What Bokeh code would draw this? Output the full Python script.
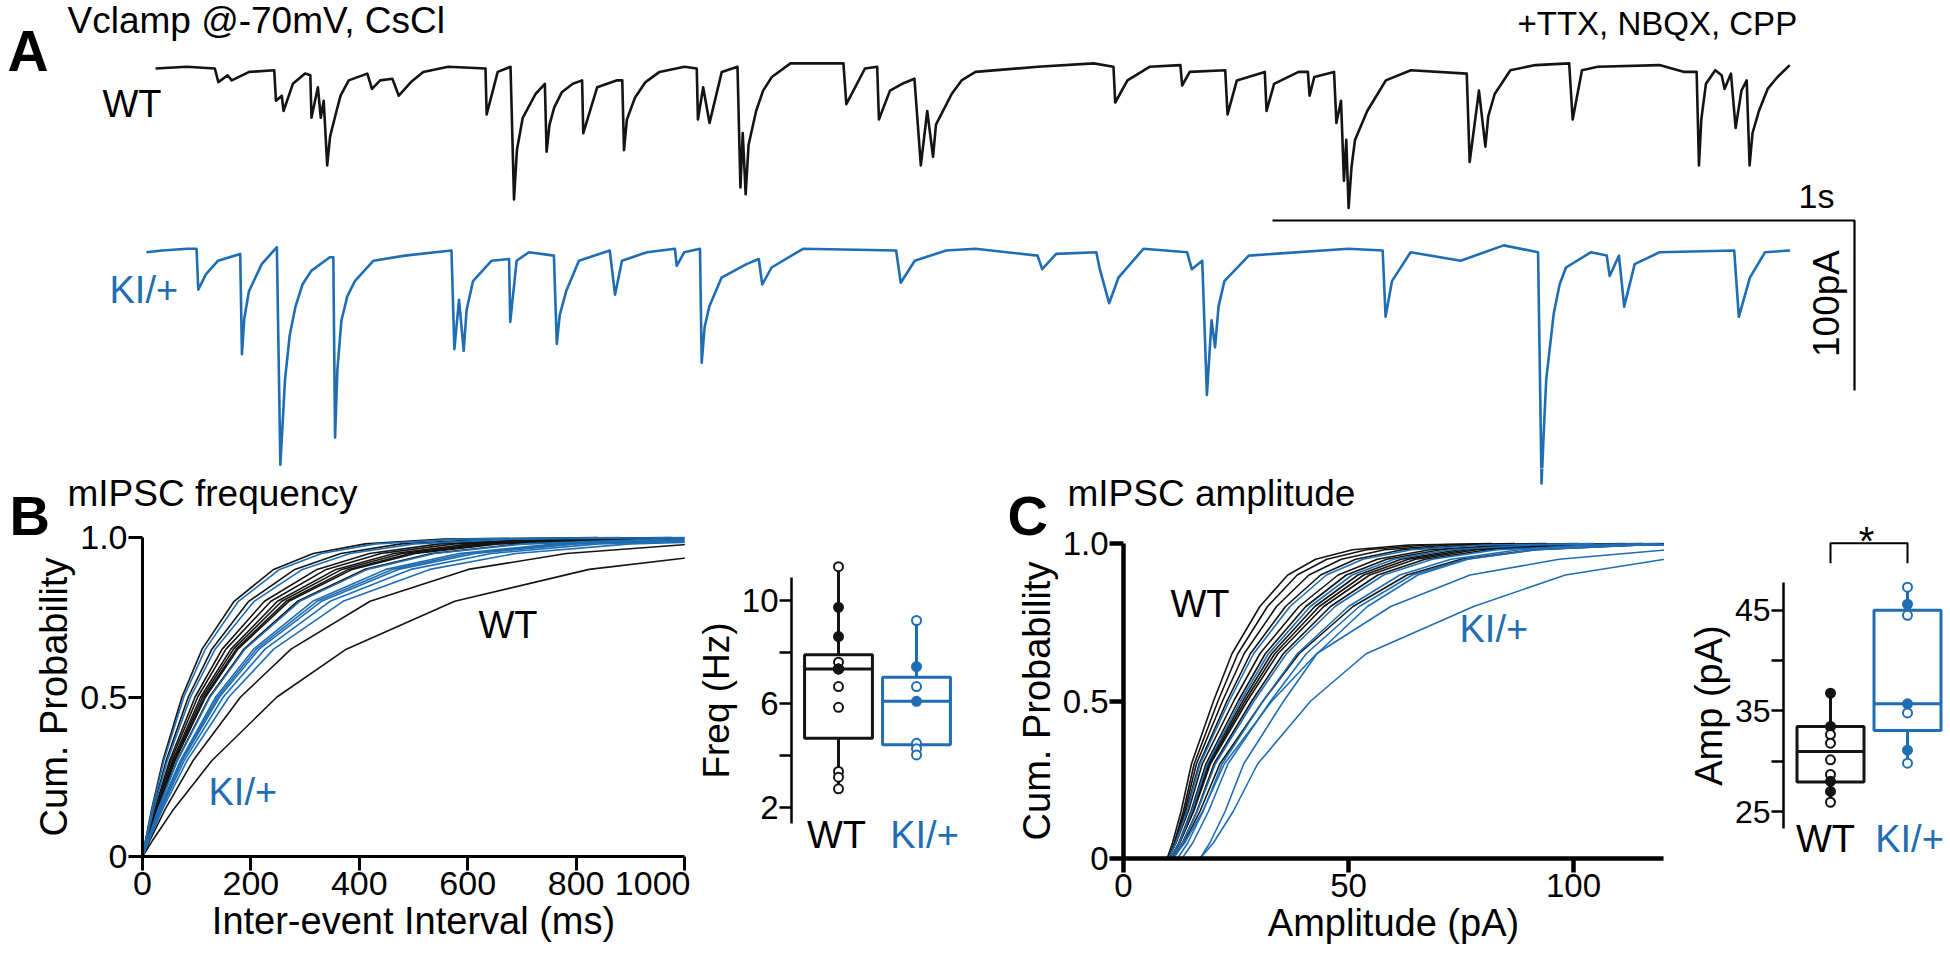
from bokeh.plotting import figure
from bokeh.layouts import column, row
from bokeh.models import Range1d, Label, FixedTicker
from bokeh.embed import file_html
from bokeh.resources import INLINE
import math

FONT = "Liberation Sans"
BLACK = "#141414"
BLUE = "#1f6db3"

# ------------------------------------------------------------------ data
# Panel A: example traces, (time s, current pA relative to baseline)
WT_TRACE = [
    (0.000, 0), (0.054, 1), (0.102, 0), (0.108, -8), (0.124, -4), (0.131, -7), (0.161, -2),
    (0.204, -1), (0.207, -19), (0.217, -16), (0.220, -25), (0.236, -9), (0.257, -3),
    (0.266, -4), (0.268, -29), (0.279, -11), (0.284, -29), (0.289, -19), (0.295, -57),
    (0.300, -40), (0.311, -25), (0.318, -16), (0.332, -7), (0.364, -3), (0.372, -12),
    (0.386, -7), (0.407, -6), (0.418, -16), (0.439, -8), (0.460, -2), (0.503, 1), (0.567, 0),
    (0.569, -27), (0.588, -2), (0.610, 1), (0.616, -77), (0.621, -48), (0.631, -29),
    (0.653, -15), (0.669, -9), (0.672, -49), (0.677, -33), (0.685, -23), (0.698, -14),
    (0.717, -9), (0.733, -7), (0.735, -38), (0.759, -11), (0.792, -7), (0.802, -7),
    (0.805, -48), (0.810, -30), (0.824, -17), (0.842, -8), (0.866, -2), (0.909, 1),
    (0.930, 0), (0.932, -30), (0.941, -11), (0.952, -32), (0.973, -2), (1.000, 1),
    (1.005, -70), (1.009, -38), (1.014, -74), (1.019, -45), (1.032, -25), (1.044, -13),
    (1.059, -5), (1.091, 3), (1.182, 3), (1.187, -21), (1.219, 0), (1.240, 1), (1.243, -30),
    (1.262, -13), (1.283, -9), (1.304, -6), (1.315, -57), (1.326, -25), (1.336, -52),
    (1.341, -33), (1.368, -15), (1.385, -7), (1.409, -2), (1.516, 1), (1.612, 3), (1.646, 1),
    (1.649, -20), (1.670, -7), (1.708, 1), (1.761, 2), (1.764, -10), (1.777, -2), (1.838, -1),
    (1.842, -27), (1.858, -7), (1.906, -2), (1.909, -25), (1.922, -9), (1.964, -2),
    (1.980, -2), (1.983, -16), (1.991, -5), (2.025, -2), (2.029, -32), (2.037, -19),
    (2.042, -66), (2.046, -42), (2.050, -82), (2.055, -58), (2.061, -42), (2.082, -25),
    (2.114, -7), (2.157, -1), (2.253, -3), (2.258, -55), (2.274, -13), (2.285, -46),
    (2.290, -28), (2.301, -15), (2.328, -1), (2.371, 2), (2.429, 3), (2.435, -30),
    (2.451, -1), (2.478, 1), (2.584, 2), (2.627, -2), (2.648, -2), (2.652, -57), (2.656, -30),
    (2.664, -9), (2.680, -1), (2.691, -4), (2.696, -12), (2.707, -3), (2.715, -35),
    (2.725, -13), (2.734, -7), (2.739, -57), (2.744, -38), (2.755, -25), (2.770, -12),
    (2.787, -5), (2.808, 2),
]
KI_TRACE = [
    (0.000, -1), (0.027, 0), (0.070, 1), (0.086, 1), (0.089, -23), (0.102, -14), (0.123, -6),
    (0.161, -2), (0.164, -61), (0.168, -40), (0.176, -24), (0.198, -8), (0.224, 2),
    (0.230, -126), (0.238, -76), (0.246, -50), (0.256, -33), (0.268, -20), (0.283, -12),
    (0.315, -4), (0.321, -4), (0.324, -110), (0.328, -70), (0.335, -41), (0.345, -27),
    (0.358, -18), (0.390, -6), (0.444, -3), (0.524, 0), (0.529, -58), (0.537, -29),
    (0.545, -59), (0.550, -35), (0.561, -18), (0.593, -6), (0.623, -5), (0.625, -42),
    (0.636, -6), (0.657, -1), (0.700, -3), (0.705, -55), (0.710, -38), (0.721, -24),
    (0.743, -6), (0.796, 0), (0.805, -26), (0.817, -6), (0.860, -1), (0.908, 1), (0.911, -9),
    (0.924, -1), (0.951, 1), (0.954, -66), (0.959, -45), (0.967, -33), (0.988, -16),
    (1.031, -8), (1.052, -5), (1.058, -20), (1.074, -10), (1.128, 1), (1.288, 0),
    (1.296, -19), (1.320, -6), (1.374, 0), (1.424, 1), (1.531, -3), (1.539, -11),
    (1.563, -2), (1.632, -1), (1.638, -11), (1.654, -31), (1.670, -16), (1.713, 1),
    (1.788, -1), (1.796, -11), (1.814, -6), (1.822, -85), (1.830, -41), (1.836, -57),
    (1.842, -33), (1.852, -18), (1.894, -3), (2.065, 1), (2.124, 0), (2.129, -39),
    (2.140, -18), (2.172, -1), (2.258, -6), (2.332, 3), (2.391, -1), (2.397, -137),
    (2.401, -105), (2.405, -76), (2.418, -37), (2.428, -20), (2.439, -10), (2.482, -1),
    (2.509, -3), (2.514, -15), (2.530, -3), (2.539, -33), (2.557, -8), (2.600, -1),
    (2.728, 0), (2.736, -39), (2.755, -16), (2.781, -1), (2.824, 0),
]
SCALE_T = 1.0    # s
SCALE_I = 100.0  # pA

# Panel B: cumulative inter-event interval distributions (ms at each quantile)
IEI_LEVELS = [0, 0.05, 0.15, 0.30, 0.50, 0.65, 0.80, 0.90, 0.95, 0.98, 0.995, 1.0]
WT_IEI = [
    [0, 5.4, 17.1, 37.5, 72.8, 110, 169, 242, 315, 411, 556, 840],
    [0, 6.3, 19.8, 43.5, 84.5, 128, 196, 281, 366, 477, 646, 976],
    [0, 7.2, 22.8, 49.9, 97.0, 147, 225, 322, 419, 548, 742, 1120],
    [0, 7.5, 23.9, 52.4, 101.9, 154, 237, 339, 440, 575, 779, 1176],
    [0, 8.0, 25.2, 55.3, 107.4, 163, 249, 357, 464, 606, 821, 1240],
    [0, 8.2, 26.0, 57.1, 110.9, 168, 257, 368, 479, 626, 848, 1280],
    [0, 8.5, 26.8, 58.9, 114.3, 173, 265, 380, 494, 645, 874, 1320],
    [0, 8.6, 27.3, 59.9, 116.4, 176, 270, 387, 503, 657, 890, 1344],
    [0, 9.1, 28.9, 63.5, 123.4, 187, 286, 410, 533, 696, 943, 1424],
    [0, 13.4, 42.4, 93.1, 180.9, 274, 420, 601, 782, 1021, 1383, 2088],
    [0, 18.4, 58.2, 127.7, 248.1, 376, 576, 824, 1073, 1400, 1897, 2864],
]
KI_IEI = [
    [0, 5.6, 17.9, 39.2, 76.2, 116, 177, 253, 330, 430, 583, 880],
    [0, 6.6, 20.8, 45.7, 88.7, 134, 206, 295, 383, 501, 678, 1024],
    [0, 9.2, 29.3, 64.2, 124.7, 189, 290, 415, 539, 704, 954, 1440],
    [0, 10.0, 31.7, 69.6, 135.1, 205, 314, 449, 584, 763, 1033, 1560],
    [0, 10.3, 32.5, 71.3, 138.6, 210, 322, 461, 599, 782, 1060, 1600],
    [0, 10.5, 33.3, 73.1, 142.1, 215, 330, 472, 614, 802, 1086, 1640],
    [0, 11.0, 34.9, 76.7, 149.0, 226, 346, 495, 644, 841, 1139, 1720],
    [0, 11.8, 37.4, 82.0, 159.4, 242, 370, 530, 689, 900, 1219, 1840],
]

# Panel C: cumulative amplitude distributions (pA at each quantile)
AMP_LEVELS = [0, 0.05, 0.15, 0.30, 0.50, 0.65, 0.80, 0.90, 0.95, 0.98, 0.995, 1.0]
WT_AMP_CDF = [
    [9.7, 10.9, 12.8, 15.1, 20.0, 24.1, 30.3, 36.5, 42.7, 50.9, 63.3, 81.8],
    [10, 11.3, 13.3, 15.7, 21, 25.4, 32, 38.6, 45.2, 54, 67.2, 87],
    [10, 11.4, 13.6, 16.2, 22, 26.8, 34, 41.2, 48.4, 58, 72.4, 94],
    [10, 11.6, 13.9, 16.8, 23, 28.2, 36, 43.8, 51.6, 62, 77.6, 101],
    [10, 11.7, 14.4, 17.5, 24.5, 30.3, 39, 47.7, 56.4, 68, 85.4, 111.5],
    [10.5, 12.3, 15, 18.3, 25.5, 31.5, 40.5, 49.5, 58.5, 70.5, 88.5, 115.5],
    [10.5, 12.4, 15.3, 18.8, 26.5, 32.9, 42.5, 52.1, 61.7, 74.5, 93.7, 122.5],
    [10.5, 12.5, 15.5, 19.1, 27, 33.6, 43.5, 53.4, 63.3, 76.5, 96.3, 126],
    [10.5, 12.5, 15.6, 19.3, 27.5, 34.3, 44.5, 54.7, 64.9, 78.5, 98.9, 129.5],
    [11, 13.1, 16.3, 20.1, 28.5, 35.5, 46, 56.5, 67, 81, 102, 133.5],
    [11, 13.4, 17, 21.4, 31, 39, 51, 63, 75, 91, 115, 150],
]
KI_AMP_CDF = [
    [10, 11.6, 14.1, 17, 23.5, 28.9, 37, 45.1, 53.2, 64, 80.2, 104.5],
    [10.5, 12.4, 15.2, 18.6, 26, 32.2, 41.5, 50.8, 60.1, 72.5, 91.1, 119],
    [11, 13.2, 16.4, 20.4, 29, 36.2, 47, 57.8, 68.6, 83, 104.6, 137],
    [12, 14.3, 17.7, 21.9, 31, 38.6, 50, 61.4, 72.8, 88, 110.8, 145],
    [13, 15.4, 18.9, 23.2, 32.7, 40.6, 52.4, 64.2, 76, 91.8, 115.4, 151],
    [17, 19.2, 22.6, 26.7, 35.6, 43, 54.2, 65.4, 76.5, 91.4, 113.7, 147],
    [11, 13.6, 17.6, 22.4, 33, 42.9, 59.4, 77, 96.8, 121, 154, 209],
    [17, 20, 24.4, 29.8, 41.6, 53.9, 77.8, 98.2, 120.3, 152, 189, 238],
]

# Box plots: per-cell values, filled marker flags, and box stats (lo, q1, median, q3, hi)
GROUPS = ["WT", "KI/+"]
WT_FREQ = [11.30, 9.73, 8.60, 7.61, 7.35, 7.35, 7.35, 6.67, 5.87, 3.39, 3.17, 2.72]
WT_FREQ_FILLED = [False, True, True, False, True, True, True, False, False, False, False, False]
KI_FREQ = [9.22, 7.44, 6.67, 6.10, 4.48, 4.27, 4.03]
KI_FREQ_FILLED = [False, True, False, True, False, False, False]
WT_FREQ_BOX = [2.72, 4.67, 7.35, 7.90, 11.30]
KI_FREQ_BOX = [4.03, 4.42, 6.10, 7.03, 9.22]

WT_AMP = [36.76, 33.45, 32.65, 31.79, 30.14, 28.68, 28.0, 27.0, 25.92]
WT_AMP_FILLED = [True, True, False, False, False, False, True, True, False]
KI_AMP = [47.3, 45.6, 44.5, 35.7, 34.8, 31.1, 29.8]
KI_AMP_FILLED = [False, True, False, True, False, True, False]
WT_AMP_BOX = [25.92, 27.92, 30.96, 33.45, 36.76]
KI_AMP_BOX = [29.8, 33.05, 35.7, 45.0, 47.3]

FREQ_TICKS = [2, 4, 6, 8, 10]
AMP_TICKS = [25, 30, 35, 40, 45]

# ------------------------------------------------------------------ layout geometry (page px)
W_TOTAL, H_TOTAL = 1946, 958
ROW_TOP = 468
X_B, X_BB, X_C, X_CB = 0, 690, 985, 1680    # left edges of the lower-row figures


def base_fig(width, height, xr, yr):
    p = figure(width=width, height=height, x_range=Range1d(*xr), y_range=Range1d(*yr),
               output_backend="svg", toolbar_location=None,
               min_border_left=0, min_border_right=0, min_border_top=0, min_border_bottom=0)
    p.outline_line_color = None
    p.grid.visible = False
    p.background_fill_color = "white"
    p.border_fill_color = "white"
    return p


def style_axis(ax, lw, tick_px, label_px, tick_out):
    ax.axis_line_width = lw
    ax.axis_line_color = "black"
    ax.major_tick_line_width = lw
    ax.major_tick_line_color = "black"
    ax.major_tick_out = tick_out
    ax.major_tick_in = 0
    ax.minor_tick_line_color = None
    ax.major_label_text_font = FONT
    ax.major_label_text_font_size = f"{tick_px}px"
    ax.major_label_text_color = "black"
    ax.axis_label_text_font = FONT
    ax.axis_label_text_font_size = f"{label_px}px"
    ax.axis_label_text_font_style = "normal"
    ax.axis_label_text_color = "black"
    ax.major_label_standoff = 1
    ax.axis_label_standoff = 2


def lab(p, fx, fy, px, base_py, text, size, color="black", bold=False, align="left"):
    """Place text whose baseline sits at page y = base_py (middle-anchored)."""
    mid = base_py - 0.35 * size
    p.add_layout(Label(x=fx(px), y=fy(mid), text=text, text_font=FONT,
                       text_font_size=f"{size}px", text_color=color,
                       text_font_style="bold" if bold else "normal",
                       text_align=align, text_baseline="middle"))


# ------------------------------------------------------------------ panel A
A_PX_S, A_PX_PA = 582.0, 1.7
def A_t(px):  return (px - 155) / A_PX_S
def A_ki(py): return (250 - py) / A_PX_PA
def A_wt(py): return (68 - py) / A_PX_PA
KI_SHIFT = A_t(146)

WT_T = [t for t, _ in WT_TRACE]
WT_I = [i for _, i in WT_TRACE]
KI_TD = [t + KI_SHIFT for t, _ in KI_TRACE]
KI_I = [i for _, i in KI_TRACE]

pa = base_fig(W_TOTAL, ROW_TOP, (A_t(0), A_t(W_TOTAL)), (A_ki(ROW_TOP), A_ki(0)))
pa.xaxis.visible = False
pa.yaxis.visible = False
pa.extra_y_ranges = {"wt": Range1d(A_wt(ROW_TOP), A_wt(0))}
pa.line(WT_T, WT_I, y_range_name="wt", line_color=BLACK, line_width=2.6, line_join="round")
pa.line(KI_TD, KI_I, line_color=BLUE, line_width=2.6, line_join="round")
sx0, sy0 = A_t(1272), A_ki(220)
pa.line([sx0, sx0 + SCALE_T, sx0 + SCALE_T], [sy0, sy0, sy0 - SCALE_I],
        line_color="black", line_width=2.2)
lab(pa, A_t, A_ki, 7, 70, "A", 57, bold=True)
lab(pa, A_t, A_ki, 67, 33, "Vclamp @-70mV, CsCl", 37)
lab(pa, A_t, A_ki, 1517, 35, "+TTX, NBQX, CPP", 33)
lab(pa, A_t, A_ki, 102, 117, "WT", 38)
lab(pa, A_t, A_ki, 109, 303, "KI/+", 38, color=BLUE)
lab(pa, A_t, A_ki, 1798, 207, "1s", 34)
pa.add_layout(Label(x=A_t(1826), y=A_ki(303), text="100pA", text_font=FONT,
                    text_font_size="37px", text_color="black", text_align="center",
                    text_baseline="middle", angle=math.pi / 2))


def trace_tail(p, x0, x1):
    """Continue the KI/+ trace (same time/current scales) below the top panel."""
    p.extra_x_ranges = {"t": Range1d(A_t(x0), A_t(x1))}
    p.extra_y_ranges = {"ki": Range1d(A_ki(H_TOTAL), A_ki(ROW_TOP))}
    p.line(KI_TD, KI_I, x_range_name="t", y_range_name="ki",
           line_color=BLUE, line_width=2.6, line_join="round")


# ------------------------------------------------------------------ panel B (cumulative IEI)
def B_x(px): return (px - 142) / 0.542
def B_y(py): return (856 - py) / 319.0

pb = base_fig(X_BB - X_B, H_TOTAL - ROW_TOP, (B_x(X_B), B_x(X_BB)), (B_y(H_TOTAL), B_y(ROW_TOP)))
trace_tail(pb, X_B, X_BB)
for ax in (pb.xaxis[0], pb.yaxis[0]):
    style_axis(ax, 3, 34, 38, 14)
pb.xaxis.fixed_location = 0
pb.yaxis.fixed_location = 0
pb.xaxis.ticker = FixedTicker(ticks=[0, 200, 400, 600, 800, 1000])
pb.yaxis.ticker = FixedTicker(ticks=[0, 0.5, 1.0])
pb.yaxis.major_label_overrides = {0: "0", 0.5: "0.5", 1: "1.0"}
pb.xaxis.bounds = (0, 1000)
pb.yaxis.bounds = (0, 1)
pb.xaxis.axis_label = "Inter-event Interval (ms)"
pb.yaxis.axis_label = "Cum. Probability"
for c in WT_IEI:
    pb.line(c, IEI_LEVELS, line_color=BLACK, line_width=1.6)
for c in KI_IEI:
    pb.line(c, IEI_LEVELS, line_color=BLUE, line_width=1.6)
# white mask: the plotted window ends at 1000 ms
pb.quad(left=[1000.5], right=[B_x(X_BB + 10)], bottom=[-0.01], top=[1.1],
        fill_color="white", line_color=None)
lab(pb, B_x, B_y, 9, 535, "B", 56, bold=True)
lab(pb, B_x, B_y, 67, 506, "mIPSC frequency", 37)
lab(pb, B_x, B_y, 478, 638, "WT", 38)
lab(pb, B_x, B_y, 208, 805, "KI/+", 38, color=BLUE)

# ------------------------------------------------------------------ box plot helpers
BOX_W = 0.87
def draw_box(p, pos, stats, vals, filled, color):
    lo, q1, med, q3, hi = stats
    p.segment(x0=[pos, pos], y0=[q3, q1], x1=[pos, pos], y1=[hi, lo],
              line_color=color, line_width=3)
    p.quad(left=[pos - BOX_W / 2], right=[pos + BOX_W / 2], bottom=[q1], top=[q3],
           fill_color="white", line_color=color, line_width=3)
    p.segment(x0=[pos - BOX_W / 2], y0=[med], x1=[pos + BOX_W / 2], y1=[med],
              line_color=color, line_width=3)
    p.scatter(x=[pos] * len(vals), y=vals, marker="circle", size=9,
              line_color=color, line_width=2,
              fill_color=[color if f else "white" for f in filled])

# ------------------------------------------------------------------ panel B box (frequency)
def Bb_x(px): return 1 + (px - 838) / 78.0
def Bb_y(py): return 2 + (807 - py) / 25.9

pbb = base_fig(X_C - X_BB, H_TOTAL - ROW_TOP, (Bb_x(X_BB), Bb_x(X_C)), (Bb_y(H_TOTAL), Bb_y(ROW_TOP)))
pbb.xaxis.visible = False
style_axis(pbb.yaxis[0], 2.5, 33, 37, 12)
pbb.yaxis.fixed_location = Bb_x(791)
pbb.yaxis.ticker = FixedTicker(ticks=FREQ_TICKS)
pbb.yaxis.major_label_overrides = {4: "", 8: ""}
pbb.yaxis.bounds = (Bb_y(823), Bb_y(577))
pbb.yaxis.axis_label = "Freq (Hz)"
draw_box(pbb, 1, WT_FREQ_BOX, WT_FREQ, WT_FREQ_FILLED, BLACK)
draw_box(pbb, 2, KI_FREQ_BOX, KI_FREQ, KI_FREQ_FILLED, BLUE)
lab(pbb, Bb_x, Bb_y, 836, 848, GROUPS[0], 38, align="center")
lab(pbb, Bb_x, Bb_y, 924, 848, GROUPS[1], 38, color=BLUE, align="center")

# ------------------------------------------------------------------ panel C (cumulative amplitude)
def C_x(px): return (px - 1123) / 4.5
def C_y(py): return (858 - py) / 315.0

pc = base_fig(X_CB - X_C, H_TOTAL - ROW_TOP, (C_x(X_C), C_x(X_CB)), (C_y(H_TOTAL), C_y(ROW_TOP)))
trace_tail(pc, X_C, X_CB)
for ax in (pc.xaxis[0], pc.yaxis[0]):
    style_axis(ax, 4.5, 33, 38, 14)
pc.xaxis.fixed_location = 0
pc.yaxis.fixed_location = 0
pc.xaxis.ticker = FixedTicker(ticks=[0, 50, 100])
pc.yaxis.ticker = FixedTicker(ticks=[0, 0.5, 1.0])
pc.yaxis.major_label_overrides = {0: "0", 0.5: "0.5", 1: "1.0"}
pc.xaxis.bounds = (0, 120)
pc.yaxis.bounds = (0, 1)
pc.xaxis.axis_label = "Amplitude (pA)"
pc.yaxis.axis_label = "Cum. Probability"
for c in WT_AMP_CDF:
    pc.line(c, AMP_LEVELS, line_color=BLACK, line_width=1.6)
for c in KI_AMP_CDF:
    pc.line(c, AMP_LEVELS, line_color=BLUE, line_width=1.6)
pc.quad(left=[120.1], right=[C_x(X_CB + 10)], bottom=[-0.01], top=[1.1],
        fill_color="white", line_color=None)
lab(pc, C_x, C_y, 1007, 535, "C", 56, bold=True)
lab(pc, C_x, C_y, 1067, 506, "mIPSC amplitude", 37)
lab(pc, C_x, C_y, 1170, 617, "WT", 38)
lab(pc, C_x, C_y, 1459, 642, "KI/+", 38, color=BLUE)

# ------------------------------------------------------------------ panel C box (amplitude)
def Cb_x(px): return 1 + (px - 1830) / 77.0
def Cb_y(py): return 25 + (811 - py) / 10.06

pcb = base_fig(W_TOTAL - X_CB, H_TOTAL - ROW_TOP, (Cb_x(X_CB), Cb_x(W_TOTAL)), (Cb_y(H_TOTAL), Cb_y(ROW_TOP)))
pcb.xaxis.visible = False
style_axis(pcb.yaxis[0], 2.5, 32, 38, 12)
pcb.yaxis.fixed_location = Cb_x(1783)
pcb.yaxis.ticker = FixedTicker(ticks=AMP_TICKS)
pcb.yaxis.major_label_overrides = {30: "", 40: ""}
pcb.yaxis.bounds = (Cb_y(828), Cb_y(582))
pcb.yaxis.axis_label = "Amp (pA)"
draw_box(pcb, 1, WT_AMP_BOX, WT_AMP, WT_AMP_FILLED, BLACK)
draw_box(pcb, 2, KI_AMP_BOX, KI_AMP, KI_AMP_FILLED, BLUE)
br_hi, br_lo = Cb_y(542.7), Cb_y(562.7)
pcb.line([1, 1, 2, 2], [br_lo, br_hi, br_hi, br_lo], line_color="black", line_width=2)
pcb.add_layout(Label(x=Cb_x(1866), y=Cb_y(540), text="*", text_font=FONT,
                     text_font_size="40px", text_color="black", text_align="center",
                     text_baseline="middle"))
lab(pcb, Cb_x, Cb_y, 1825, 852, GROUPS[0], 38, align="center")
lab(pcb, Cb_x, Cb_y, 1909, 852, GROUPS[1], 38, color=BLUE, align="center")

# ------------------------------------------------------------------ layout
layout = column(pa, row(pb, pbb, pc, pcb, spacing=0), spacing=0)
open("out.html", "w").write(file_html(layout, INLINE))
